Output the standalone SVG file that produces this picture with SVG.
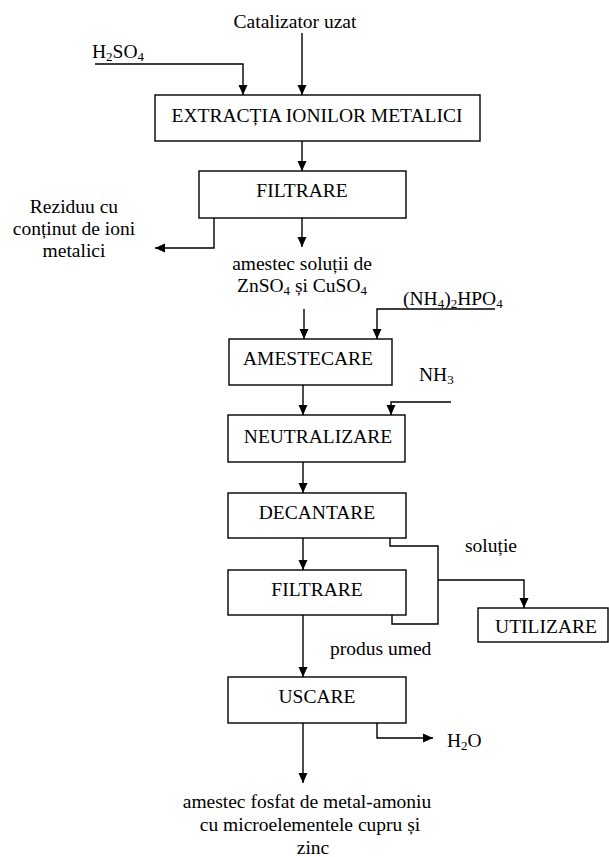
<svg xmlns="http://www.w3.org/2000/svg" width="609" height="857" viewBox="0 0 609 857">
<style>
text{font-family:'Liberation Serif',serif;font-size:19.5px;fill:#000}
.m{text-anchor:middle}
.s{font-size:13px}
rect{fill:#fff;stroke:#000;stroke-width:1.4}
.c path{fill:none;stroke:#000;stroke-width:1.4}
</style>
<defs>
<marker id="a" viewBox="0 0 10 10" refX="10" refY="5" markerWidth="10" markerHeight="10" markerUnits="userSpaceOnUse" orient="auto">
<path d="M0,0.5 L10,5 L0,9.5 Z" fill="#000"/>
</marker>
</defs>
<g class="c" id="connectors">
<path d="M302,33 V95" marker-end="url(#a)"/>
<path d="M95,64 H243 V95" marker-end="url(#a)"/>
<path d="M302,141 V171" marker-end="url(#a)"/>
<path d="M302,218 V247" marker-end="url(#a)"/>
<path d="M214,218 V248 H155" marker-end="url(#a)"/>
<path d="M304,309 V339" marker-end="url(#a)"/>
<path d="M495,309 H377 V339" marker-end="url(#a)"/>
<path d="M303,385 V415" marker-end="url(#a)"/>
<path d="M451,402 H391 V415" marker-end="url(#a)"/>
<path d="M303,462 V493" marker-end="url(#a)"/>
<path d="M303,538 V570" marker-end="url(#a)"/>
<path d="M390,538 V546 H438 V624 H392 V615"/>
<path d="M438,580 H524 V608" marker-end="url(#a)"/>
<path d="M303,615 V677" marker-end="url(#a)"/>
<path d="M303,723 V783" marker-end="url(#a)"/>
<path d="M377,723 V738 H433" marker-end="url(#a)"/>
</g>
<g font-family="'Liberation Serif', serif">
<g id="extractia"><rect x="155" y="95" width="325" height="46"/><text class="m" x="317" y="122">EXTRACȚIA IONILOR METALICI</text></g>
<g id="filtrare1"><rect x="199" y="171" width="207" height="47"/><text class="m" x="302" y="197">FILTRARE</text></g>
<g id="amestecare"><rect x="229" y="339" width="163" height="46"/><text class="m" x="308" y="365">AMESTECARE</text></g>
<g id="neutralizare"><rect x="228" y="415" width="177" height="47"/><text class="m" x="318" y="443">NEUTRALIZARE</text></g>
<g id="decantare"><rect x="228" y="493" width="178" height="45"/><text class="m" x="317" y="519">DECANTARE</text></g>
<g id="filtrare2"><rect x="228" y="570" width="178" height="45"/><text class="m" x="317" y="596">FILTRARE</text></g>
<g id="utilizare"><rect x="478" y="608" width="130" height="34"/><text class="m" x="546" y="633">UTILIZARE</text></g>
<g id="uscare"><rect x="228" y="677" width="178" height="46"/><text class="m" x="317" y="703">USCARE</text></g>
<g id="labels">
<text class="m" x="295" y="28">Catalizator uzat</text>
<text x="92" y="58">H<tspan class="s" dy="3">2</tspan><tspan dy="-3">SO</tspan><tspan class="s" dy="3">4</tspan></text>
<text class="m" x="74" y="213">Reziduu cu</text>
<text class="m" x="74" y="235">conținut de ioni</text>
<text class="m" x="74" y="257">metalici</text>
<text class="m" x="302" y="270">amestec soluții de</text>
<text class="m" x="302" y="292">ZnSO<tspan class="s" dy="3">4</tspan><tspan dy="-3"> și CuSO</tspan><tspan class="s" dy="3">4</tspan></text>
<text x="403" y="305">(NH<tspan class="s" dy="3">4</tspan><tspan dy="-3">)</tspan><tspan class="s" dy="3">2</tspan><tspan dy="-3">HPO</tspan><tspan class="s" dy="3">4</tspan></text>
<text x="419" y="381">NH<tspan class="s" dy="3">3</tspan></text>
<text x="465" y="552">soluție</text>
<text x="330" y="655">produs umed</text>
<text x="447" y="747">H<tspan class="s" dy="3">2</tspan><tspan dy="-3">O</tspan></text>
<text class="m" x="307" y="808">amestec fosfat de metal-amoniu</text>
<text class="m" x="310" y="831">cu microelementele cupru și</text>
<text class="m" x="313" y="854">zinc</text>
</g>
</g>
</svg>
